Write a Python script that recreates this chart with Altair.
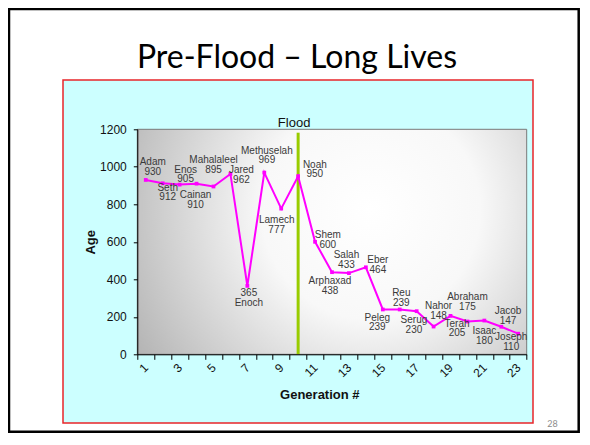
import altair as alt
import pandas as pd

# ---- data ----
generations = list(range(1, 24))
names = ["Adam", "Seth", "Enos", "Cainan", "Mahalaleel", "Jared", "Enoch",
         "Methuselah", "Lamech", "Noah", "Shem", "Arphaxad", "Salah", "Eber",
         "Peleg", "Reu", "Serug", "Nahor", "Terah", "Abraham", "Isaac",
         "Jacob", "Joseph"]
ages = [930, 912, 905, 910, 895, 962, 365, 969, 777, 950, 600, 438, 433, 464,
        239, 239, 230, 148, 205, 175, 180, 147, 110]
y_ticks = [0, 200, 400, 600, 800, 1000, 1200]
flood_generation = 10

# label placement (styling only, in pixels): horizontal shift, name row, value row
label_dx = [7, 5, 6, -1, 0, 11, 1.5, 2.6, -4.5, 16.7, 12.7, -2, -2.5, 12,
            -5.5, 1.6, -2.7, 5, 6.5, 0, 0, 6.7, -7]
name_dy = [-18, 4.5, -14.6, 11, -26, -4, 17.5, -22, 11.4, -11.5, -6.8, 9, -18,
           -7, 8.2, -16, 9, -21, 7.8, -24, 10, -15.7, 3.6]
value_dy = [-8, 14, -5.3, 21, -16.5, 6, 7.5, -12.6, 21.4, -2, 3, 18.5, -8, 2.7,
            17.5, -6, 19, -11, 17.5, -14, 20, -6, 13.3]

df = pd.DataFrame({"gen": generations, "name": names, "age": ages,
                   "ldx": label_dx, "ndy": name_dy, "vdy": value_dy})

W, H = 389.4, 225
FONT = "Liberation Sans"

x_enc = alt.X("gen:O",
              scale=alt.Scale(type="band", paddingInner=0, paddingOuter=0),
              axis=alt.Axis(title="Generation #", titleFont=FONT, titleFontSize=13,
                            titleFontWeight="bold", titleColor="#111",
                            titleX=182, titleY=40, titleAlign="center",
                            titleBaseline="middle",
                            labelFont=FONT, labelFontSize=12, labelColor="#111",
                            labelAngle=315, labelAlign="right", labelBaseline="middle",
                            labelPadding=6,
                            labelExpr="datum.value % 2 == 1 ? datum.label : ''",
                            tickBand="extent", tickSize=5, tickColor="#000",
                            domainColor="#000", grid=False, zindex=1))
y_enc = alt.Y("age:Q",
              scale=alt.Scale(domain=[0, 1200], nice=False),
              axis=alt.Axis(title="Age", titleFont=FONT, titleFontSize=13,
                            titleFontWeight="bold", titleColor="#111",
                            titleAngle=270, titleX=-47, titleY=H / 2,
                            titleAlign="center", titleBaseline="middle",
                            values=y_ticks, format="d", labelFont=FONT,
                            labelFontSize=12, labelColor="#111", labelPadding=7,
                            tickSize=4, tickColor="#000", domainColor="#000",
                            grid=False, zindex=1))

one = alt.Data(values=[{}])

slide = alt.Chart(one).mark_rect(fill="white", stroke="black", strokeWidth=2.5).encode(
    x=alt.value(-128.3), x2=alt.value(W + 52), y=alt.value(-120.3), y2=alt.value(H + 77.5))
box = alt.Chart(one).mark_rect(fill="#CCFFFF", stroke="#E8262A", strokeWidth=1.5).encode(
    x=alt.value(-74.3), x2=alt.value(395.7), y=alt.value(-49.3), y2=alt.value(293.7))
plot_bg = alt.Chart(one).mark_rect(
    fill=alt.Gradient(gradient="radial",
                      stops=[alt.GradientStop(color="#ffffff", offset=0),
                             alt.GradientStop(color="#f8f8f8", offset=0.35),
                             alt.GradientStop(color="#a4a4a4", offset=1)],
                      x1=0.6, y1=0.42, r1=0, x2=0.6, y2=0.42, r2=0.8),
    stroke="#7a7a7a", strokeWidth=1).encode(
    x=alt.value(0), x2=alt.value(W), y=alt.value(0), y2=alt.value(H))

title = alt.Chart(one).mark_text(text="Pre-Flood – Long Lives", font="Lato",
                                 fontSize=32, color="#000").encode(
    x=alt.value(159.7), y=alt.value(-71.3))
page_no = alt.Chart(one).mark_text(text="28", font="Lato", fontSize=9,
                                   color="#8c8c8c").encode(
    x=alt.value(415.2), y=alt.value(294.5))

base = alt.Chart(df)
flood_rule = base.transform_filter(f"datum.gen == {flood_generation}").mark_rule(
    color="#99CC00", strokeWidth=3).encode(
    x=x_enc, y=alt.value(3.4), y2=alt.value(H))
flood_text = base.transform_filter(f"datum.gen == {flood_generation}").mark_text(
    text="Flood", font=FONT, fontSize=13, color="#111", dx=-4).encode(
    x=x_enc, y=alt.value(-6.5))

line = base.mark_line(color="#FF00FF", strokeWidth=2).encode(x=x_enc, y=y_enc)
pts = base.mark_point(shape="square", filled=True, size=14, color="#FF00FF",
                      opacity=1).encode(x=x_enc, y=y_enc)
name_txt = base.mark_text(font=FONT, fontSize=10, color="#3a3a3a",
                          dx=alt.ExprRef("datum.ldx"),
                          dy=alt.ExprRef("datum.ndy")).encode(
    x=x_enc, y=y_enc, text="name:N")
value_txt = base.mark_text(font=FONT, fontSize=10, color="#3a3a3a",
                           dx=alt.ExprRef("datum.ldx"),
                           dy=alt.ExprRef("datum.vdy")).encode(
    x=x_enc, y=y_enc, text="age:Q")

chart = alt.layer(slide, box, plot_bg, title, page_no, flood_rule, flood_text,
                  line, pts, name_txt, value_txt).properties(
    width=W, height=H, autosize="none",
    padding={"left": 129.3, "top": 121.3, "right": 53.3, "bottom": 78.7}
).configure_view(stroke=None).configure(background="white")

chart.save("out.html", embed_options={"renderer": "svg", "actions": False})
